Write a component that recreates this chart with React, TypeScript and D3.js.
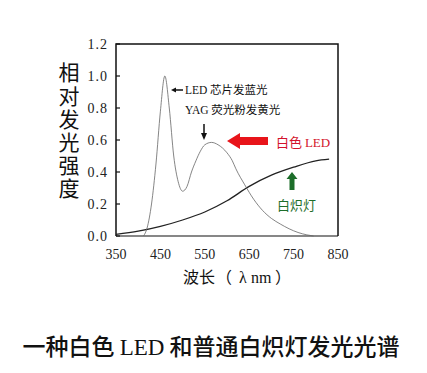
import React, { useEffect } from "react";
import * as d3 from "d3";

// white LED spectrum (nm, relative intensity)
const ledWave = [412, 420, 430, 440, 450, 460, 470, 480, 490, 500, 510, 520, 530, 540, 550, 565, 580, 600, 612, 620, 640, 660, 680, 700, 720, 740, 760, 780, 795];
const ledValue = [0, 0.05, 0.2, 0.45, 0.78, 1.0, 0.8, 0.5, 0.34, 0.28, 0.31, 0.4, 0.47, 0.53, 0.57, 0.585, 0.57, 0.52, 0.47, 0.42, 0.32, 0.23, 0.16, 0.11, 0.075, 0.045, 0.022, 0.007, 0];

// incandescent lamp spectrum
const lampWave = [350, 400, 450, 500, 550, 600, 650, 700, 750, 800, 830];
const lampValue = [0.01, 0.03, 0.06, 0.1, 0.15, 0.22, 0.31, 0.38, 0.43, 0.47, 0.48];

const xTicks = [350, 450, 550, 650, 750, 850];
const yTicks = [0, 0.2, 0.4, 0.6, 0.8, 1.0, 1.2];

const yLabel = "相对发光强度";

const W = 427;
const H = 373;
const margin = { left: 116, right: 89, top: 44, bottom: 137 };

const App = () => {
  useEffect(() => {
    document.body.style.margin = "0";
  }, []);

  const x = d3.scaleLinear().domain([350, 850]).range([margin.left, W - margin.right]);
  const y = d3.scaleLinear().domain([0, 1.2]).range([H - margin.bottom, margin.top]);

  const line = d3
    .line<[number, number]>()
    .x((d) => x(d[0]))
    .y((d) => y(d[1]))
    .curve(d3.curveMonotoneX);

  const ledPts = ledWave.map((w, i) => [w, ledValue[i]] as [number, number]);
  const lampPts = lampWave.map((w, i) => [w, lampValue[i]] as [number, number]);

  const serif = "'Liberation Serif', 'DejaVu Serif', serif";
  const cjk = "'Noto Sans CJK SC', sans-serif";
  const x0 = x(350), x1 = x(850), yb = y(0), yt = y(1.2);

  return (
    <svg width={W} height={H} style={{ display: "block", background: "#fff" }}>
      {/* frame */}
      <path d={`M${x0},${yb}V${yt}H${x1}V${yb}`} fill="none" stroke="#111" strokeWidth={1.5} />
      <line x1={x0} x2={x1} y1={yb} y2={yb} stroke="#111" strokeWidth={1.2} />

      {yTicks.map((t) => (
        <g key={t}>
          <line x1={x0} x2={x0 + 4} y1={y(t)} y2={y(t)} stroke="#111" strokeWidth={1.2} />
          <text x={x0 - 8} y={y(t)} dy="0.35em" textAnchor="end" fontFamily={serif} fontSize={14} letterSpacing={1} fill="#222">
            {t.toFixed(1)}
          </text>
        </g>
      ))}
      {xTicks.map((t) => (
        <text key={t} x={x(t)} y={yb + 23} textAnchor="middle" fontFamily={serif} fontSize={14} fill="#222">
          {t}
        </text>
      ))}

      {/* curves */}
      <path d={line(lampPts) || ""} fill="none" stroke="#222" strokeWidth={1.3} />
      <path d={line(ledPts) || ""} fill="none" stroke="#666" strokeWidth={0.8} />

      {/* annotations */}
      <g fontFamily={cjk} fontSize={11.5} fill="#111">
        <path d="M174,90 H183" stroke="#111" strokeWidth={1.5} />
        <path d="M171,90 l5,-2.5 v5 z" fill="#111" />
        <text x={185} y={90} dy="0.35em">
          <tspan fontFamily={serif}>LED</tspan> 芯片发蓝光
        </text>
        <text x={185} y={110} dy="0.35em">
          <tspan fontFamily={serif}>YAG</tspan> 荧光粉发黄光
        </text>
        <path d="M204,124 V134" stroke="#111" strokeWidth={1.5} />
        <path d="M204,140 l-3,-7 h6 z" fill="#111" />
      </g>

      {/* red arrow */}
      <path d="M227,141 l13,-8 v4 h28 v8 h-28 v4 z" fill="#e8141a" />
      <text x={276} y={142} dy="0.35em" fontFamily={cjk} fontSize={13} fill="#d3122b">
        白色 <tspan fontFamily={serif}>LED</tspan>
      </text>

      {/* green arrow */}
      <path d="M292,172 l-5.5,7 h3 v11 h5 v-11 h3 z" fill="#1d6e2a" />
      <text x={277} y={205} dy="0.35em" fontFamily={cjk} fontSize={13} fill="#1d6e2a">
        白炽灯
      </text>

      {/* axis titles */}
      <text
        x={69}
        y={62}
        fontFamily={cjk}
        fontSize={21}
        fill="#111"
        letterSpacing={2.2}
        style={{ writingMode: "vertical-rl" }}
      >
        {yLabel}
      </text>
      <text y={277} dy="0.35em" fontFamily={cjk} fontSize={16} fill="#111">
        <tspan x={183}>波长</tspan>
        <tspan x={216}>（</tspan>
        <tspan x={239} fontFamily={serif}>λ</tspan>
        <tspan x={251} fontFamily={serif}>nm</tspan>
        <tspan x={275}>）</tspan>
      </text>

      <text x={211} y={347} dy="0.35em" textAnchor="middle" fontFamily={cjk} fontSize={23} fontWeight={500} fill="#111">
        一种白色 <tspan fontFamily={serif}>LED</tspan> 和普通白炽灯发光光谱
      </text>
    </svg>
  );
};

export default App;
